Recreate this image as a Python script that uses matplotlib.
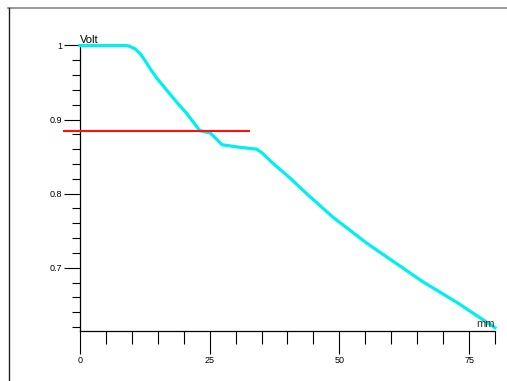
import matplotlib
matplotlib.use('Agg')
import matplotlib.pyplot as plt
from matplotlib.lines import Line2D

# Daten der Kurve (mm -> Volt)
mm = [0, 9.0, 9.6, 10.6, 11.6, 12.5, 13.5, 14.8, 16.8, 18.7, 20.6, 23.1, 25.1, 27.4, 30.3,
      34.1, 35.1, 37.2, 40.5, 44.0, 48.8, 55.3, 60.5, 66.1, 72.7, 80.0]
volt = [1.0, 1.0, 0.9988, 0.9955, 0.989, 0.980, 0.969, 0.956, 0.939, 0.923, 0.908, 0.885,
        0.882, 0.866, 0.863, 0.860, 0.855, 0.841, 0.821, 0.798, 0.768, 0.733, 0.708,
        0.681, 0.653, 0.619]

# rote Schwelle
schwelle_x = [-3.1, 32.6]
schwelle_y = 0.885

x_major = [0, 25, 50, 75]
x_major_labels = ['0', '25', '50', '75']
x_minor = [5, 10, 15, 20, 30, 35, 40, 45, 55, 60, 65, 70, 80]
y_major = [0.7, 0.8, 0.9, 1.0]
y_major_labels = ['0.7', '0.8', '0.9', '1']
y_minor = [0.62, 0.64, 0.66, 0.68, 0.72, 0.74, 0.76, 0.78, 0.82, 0.84, 0.86, 0.88,
           0.92, 0.94, 0.96, 0.98]

plt.rcParams['font.family'] = ['Liberation Sans', 'DejaVu Sans']

fig = plt.figure(figsize=(5.07, 3.81), dpi=100)
ax = fig.add_axes([0, 0, 1, 1])
ax.patch.set_visible(False)

ax.plot(mm, volt, color='#00F0F0', lw=2.3, solid_joinstyle='round', zorder=3)
ax.plot(schwelle_x, [schwelle_y, schwelle_y], color='#FF1010', lw=1.5, zorder=4)

ax.set_xlim(-80 / 5.187, (507 - 80) / 5.187)
ax.set_ylim(1 - (381 - 45.5) / 740.7, 1 + 45.5 / 740.7)

ax.spines['top'].set_visible(False)
ax.spines['right'].set_visible(False)
ax.spines['left'].set_position(('data', 0))
ax.spines['bottom'].set_position(('data', 0.615))
ax.spines['left'].set_bounds(0.615, 1.0)
ax.spines['bottom'].set_bounds(0, 80)
for s in ['left', 'bottom']:
    ax.spines[s].set_linewidth(0.9)

ax.set_xticks(x_major)
ax.set_xticklabels(x_major_labels)
ax.set_xticks(x_minor, minor=True)
ax.set_yticks(y_major)
ax.set_yticklabels(y_major_labels)
ax.set_yticks(y_minor, minor=True)

ax.tick_params(axis='x', which='major', direction='out', length=16.5, width=0.8, pad=2, labelsize=6.5)
ax.tick_params(axis='x', which='minor', direction='out', length=9.2, width=0.8)
ax.tick_params(axis='y', which='major', direction='out', length=11.5, width=0.8, pad=1.5, labelsize=6.5)
ax.tick_params(axis='y', which='minor', direction='out', length=5.8, width=0.8)

ax.text(0, 1.0, 'Volt', ha='left', va='bottom', fontsize=8)
ax.text(80, 0.617, 'mm', ha='right', va='bottom', fontsize=8, color='#333333')

# Rahmen
fig.add_artist(Line2D([8 / 507, 1], [1 - 7.5 / 381, 1 - 7.5 / 381], transform=fig.transFigure,
                      color='#888888', lw=1.2))
fig.add_artist(Line2D([8.5 / 507, 8.5 / 507], [0, 1 - 7.5 / 381], transform=fig.transFigure,
                      color='#202020', lw=1))

fig.savefig('out.png', dpi=100)
